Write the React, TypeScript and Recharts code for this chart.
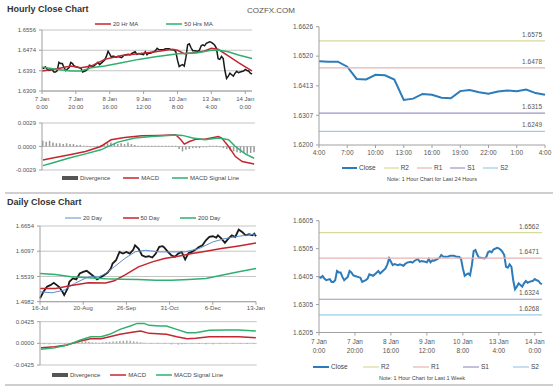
import React from 'react';
import { LineChart, ComposedChart, Line, Bar, XAxis, YAxis, CartesianGrid, Legend, LabelList } from 'recharts';

// ---------------- Hourly (last week) data ----------------
const weekHours = [0,1,2,3,4,6,7,8,9,10,11,12,13,14,16,17,18,19,20,22,23,24,26,27,28,30,31,33,34,35,37,38,39,40,41,42,44,45,47,48,49,51,52,53,55,56,57,59,60,61,62,63,64,66,67,68,69,71,72,73,75,76,78,79,80,81,82,83,84,85,86,87,88,89,90,92,93,94,95,96,97,99,100,101,102,103,104,105,106,107,108,109,110,111,112,113,114,115,116,117,119,120,121,122,123,124];
const weekClose = [1.6404,1.6401,1.6407,1.6398,1.6392,1.6396,1.6386,1.6386,1.6392,1.6425,1.6420,1.6420,1.6404,1.6392,1.6404,1.6425,1.6420,1.6410,1.6407,1.6403,1.6401,1.6386,1.6392,1.6398,1.6413,1.6408,1.6413,1.6425,1.6416,1.6422,1.6434,1.6449,1.6470,1.6458,1.6446,1.6450,1.6446,1.6449,1.6444,1.6451,1.6455,1.6458,1.6455,1.6461,1.6468,1.6458,1.6461,1.6458,1.6456,1.6468,1.6456,1.6463,1.6462,1.6468,1.6472,1.6482,1.6477,1.6476,1.6477,1.6480,1.6480,1.6477,1.6475,1.6468,1.6434,1.6408,1.6413,1.6416,1.6410,1.6446,1.6496,1.6500,1.6484,1.6472,1.6472,1.6470,1.6475,1.6492,1.6496,1.6492,1.6502,1.6508,1.6506,1.6501,1.6494,1.6482,1.6440,1.6437,1.6449,1.6440,1.6392,1.6360,1.6369,1.6381,1.6375,1.6369,1.6381,1.6389,1.6383,1.6386,1.6390,1.6396,1.6392,1.6390,1.6381,1.6378];
const ma20Hours = [0,9,17,23,29,37,47,57,67,77,80,84,90,96,100,104,110,116,122,124];
const ma20Values = [1.6390,1.6399,1.6410,1.6403,1.6410,1.6437,1.6453,1.6460,1.6468,1.6478,1.6474,1.6460,1.6464,1.6471,1.6482,1.6478,1.6451,1.6424,1.6399,1.6390];
const ma50Hours = [0,9,17,23,29,37,47,57,67,77,80,84,92,100,104,110,116,124];
const ma50Values = [1.6406,1.6396,1.6390,1.6390,1.6403,1.6410,1.6423,1.6437,1.6448,1.6457,1.6460,1.6461,1.6464,1.6474,1.6475,1.6468,1.6455,1.6441];
const hMacdHours = [0,5,15,25,34,40,48,58,68,78,81,83,86,90,95,103,105,109,113,117,124];
const hMacdValues = [-0.00166,-0.00145,-0.00104,-0.00062,0,0.00083,0.00112,0.00133,0.00137,0.00145,0.00083,0.00029,0.00062,0.00091,0.00091,0.00124,0.00104,0,-0.00124,-0.00186,-0.00215];
const hSignalHours = [0,5,15,25,34,44,54,64,78,82,88,95,103,109,113,119,124];
const hSignalValues = [-0.00236,-0.00207,-0.00145,-0.00091,-0.00041,0.00054,0.00104,0.00124,0.00141,0.00137,0.00104,0.00083,0.00104,0.00083,0,-0.00095,-0.00145];
const hDivHours = [0,2,4,6,8,10,12,14,16,18,20,22,24,26,28,30,32,34,36,38,40,42,44,46,48,50,52,54,56,58,60,62,64,66,68,70,72,74,76,78,80,82,84,86,88,90,92,94,96,98,100,102,104,106,108,110,112,114,116,118,120,122,124];
const hDivValues = [0.0007,0.0006,0.0007,0.0005,0.0004,0.0004,0.0003,0.0004,0.0003,0.0003,0.0002,0.0002,0.0001,0.0001,-0.0001,-0.0001,0.0001,0.0002,0.0003,0.0004,0.0005,0.0004,0.0003,0.0004,0.0003,0.0005,0.0003,0.0002,0.0001,0.0001,0.0001,0.0001,0.0001,0.0001,0.0001,0.0001,0.0001,0.0001,0.0001,0.0001,-0.0003,-0.0006,-0.0004,-0.0003,-0.0002,-0.0002,-0.0002,-0.0001,-0.0001,0.0001,0.0001,0.0001,-0.0001,-0.0002,-0.0003,-0.0005,-0.0006,-0.0007,-0.0008,-0.0008,-0.0009,-0.0008,-0.0007];
const weekTickHours = [0,20,40,60,80,100,120];
const weekTickDays = ['7 Jan','7 Jan','8 Jan','9 Jan','10 Jan','13 Jan','14 Jan'];
const weekTickTimes = ['0:00','20:00','16:00','12:00','8:00','4:00','0:00'];
const hourlyPriceTicks = [1.6309,1.6391,1.6474,1.6556];
const hourlyMacdTicks = [-0.0029,0,0.0029];
const weekRightTicks = [1.6205,1.6305,1.6405,1.6505,1.6605];
const weekR2 = 1.6562, weekR1 = 1.6471, weekS1 = 1.6324, weekS2 = 1.6268;

// ---------------- Last 24 hours ----------------
const dayClose = [1.6502,1.6500,1.6500,1.6482,1.6438,1.6436,1.6453,1.6451,1.6436,1.6362,1.6367,1.6384,1.6381,1.6370,1.6368,1.6394,1.6398,1.6390,1.6385,1.6393,1.6396,1.6394,1.6400,1.6387,1.6381];
const dayTickIdx = [0,3,6,9,12,15,18,21,24];
const dayTickLabels = ['4:00','7:00','10:00','13:00','16:00','19:00','22:00','1:00','4:00'];
const dayTicks = [1.6200,1.6307,1.6413,1.6520,1.6626];
const dayR2 = 1.6575, dayR1 = 1.6478, dayS1 = 1.6315, dayS2 = 1.6249;

// ---------------- Daily ----------------
const dCloseDays = [0,2,4,6,8,9,11,13,14,16,17,19,21,23,25,27,29,31,33,35,37,39,41,42,44,46,48,50,52,54,55,57,59,61,63,65,67,69,71,72,74,76,78,80,82,84,86,88,90,92,94,96,98,100,102,103,105,107,109,111,113,115,117,119,121,123,124,125];
const dCloseValues = [1.5055,1.5201,1.5312,1.5348,1.5400,1.5370,1.5312,1.5201,1.5128,1.5275,1.5422,1.5495,1.5473,1.5605,1.5642,1.5664,1.5605,1.5546,1.5473,1.5517,1.5568,1.5620,1.5715,1.5825,1.5898,1.6082,1.6045,1.6082,1.6045,1.6133,1.6229,1.6155,1.6008,1.5972,1.5986,1.5957,1.6045,1.6192,1.6207,1.6177,1.6082,1.6008,1.5972,1.6045,1.6082,1.5913,1.6060,1.6082,1.6133,1.6192,1.6229,1.6339,1.6412,1.6427,1.6397,1.6449,1.6375,1.6280,1.6375,1.6449,1.6412,1.6573,1.6522,1.6449,1.6471,1.6449,1.6485,1.6427];
const d20Days = [0,7,14,20,28,34,38,43,49,55,61,69,76,84,92,100,107,115,123,125];
const d20Values = [1.5201,1.5179,1.5238,1.5385,1.5532,1.5532,1.5605,1.5752,1.5935,1.6082,1.6118,1.6082,1.6082,1.6082,1.6155,1.6302,1.6375,1.6427,1.6471,1.6471];
const d50Days = [0,9,18,28,38,43,49,57,65,72,80,88,96,105,115,125];
const d50Values = [1.5275,1.5275,1.5340,1.5400,1.5395,1.5445,1.5568,1.5752,1.5862,1.5935,1.5986,1.6045,1.6096,1.6155,1.6214,1.6280];
const d200Days = [0,9,18,28,38,47,57,67,76,86,96,105,115,125];
const d200Values = [1.5605,1.5583,1.5532,1.5510,1.5488,1.5480,1.5473,1.5458,1.5458,1.5473,1.5495,1.5568,1.5642,1.5715];
const dMacdDays = [0,8,15,23,29,35,40,46,54,58,63,73,79,85,90,98,108,115,125];
const dMacdValues = [-0.0085,-0.0065,-0.0033,0.0046,0.0092,0.0092,0.0131,0.0177,0.0222,0.0242,0.0196,0.0177,0.0131,0.0092,0.0098,0.0131,0.0131,0.0131,0.0111];
const dSignalDays = [0,8,15,23,29,35,40,46,52,56,60,63,69,73,79,85,90,98,108,115,125];
const dSignalValues = [-0.0118,-0.0085,-0.0039,0.0065,0.0131,0.0131,0.0177,0.0275,0.0340,0.0392,0.0392,0.0353,0.0340,0.0340,0.0275,0.0209,0.0209,0.0255,0.0262,0.0262,0.0242];
const dDivDays = [2,5,8,11,14,20,22,24,26,28,30,32,34,36,38,40,42,44,46,48,50,52,54,56,58,60,64,68,72,76,80,82,84,88,92,96,100,104,108,112,116,120,124];
const dDivValues = [-0.002,-0.002,-0.0015,-0.001,-0.0008,0.0015,0.0025,0.0035,0.004,0.003,0.002,0.0015,0.001,0.002,0.0025,0.003,0.0035,0.004,0.0045,0.005,0.0055,0.005,0.004,0.003,0.002,0.001,-0.0008,-0.001,-0.0015,-0.002,-0.0025,-0.002,-0.0015,-0.001,-0.0015,-0.002,-0.0018,-0.0015,-0.001,-0.0012,-0.0015,-0.0012,-0.001];
const dailyTickDays = [0,25,50,75,100,125];
const dailyTickLabels = ['16-Jul','20-Aug','26-Sep','31-Oct','6-Dec','13-Jan'];
const dailyPriceTicks = [1.4982,1.5539,1.6097,1.6654];
const dailyMacdTicks = [-0.0425,0,0.0425];

// ---------------- helpers ----------------
const seq = (n: number) => Array.from({ length: n }, (_, i) => i);
const pick = (keys: number[], vals: number[], k: number) => {
  const i = keys.indexOf(k);
  return i >= 0 ? vals[i] : null;
};

const weekRows = seq(125).map((h) => ({
  h,
  close: pick(weekHours, weekClose, h),
  ma20: pick(ma20Hours, ma20Values, h),
  ma50: pick(ma50Hours, ma50Values, h),
  macd: pick(hMacdHours, hMacdValues, h),
  signal: pick(hSignalHours, hSignalValues, h),
  div: pick(hDivHours, hDivValues, h),
  r2: weekR2, r1: weekR1, s1: weekS1, s2: weekS2,
}));

const dayRows = dayClose.map((c, i) => ({ i, close: c, r2: dayR2, r1: dayR1, s1: dayS1, s2: dayS2 }));

const dailyRows = seq(126).map((d) => ({
  d,
  close: pick(dCloseDays, dCloseValues, d),
  ma20: pick(d20Days, d20Values, d),
  ma50: pick(d50Days, d50Values, d),
  ma200: pick(d200Days, d200Values, d),
  macd: pick(dMacdDays, dMacdValues, d),
  signal: pick(dSignalDays, dSignalValues, d),
  div: pick(dDivDays, dDivValues, d),
}));

const RED = '#c3262e';
const GREEN = '#2fb06f';
const BLUE20 = '#5b8ec9';
const CLOSE_BLUE = '#2c7bba';
const R2C = '#d9da9c';
const R1C = '#e8b3b3';
const S1C = '#9d95c4';
const S2C = '#9ccce6';
const AXIS = '#a0a0a0';
const TXT = '#555';
const f4 = (v: number) => Number(v).toFixed(4);

type LegOpts = {
  height: number; padTop: number; gap?: number; slot?: number; iconW: number; font: number;
  order: string[]; note?: string; noteCenter?: number; noteFont?: number;
};

const makeLegend = (o: LegOpts) => (props: any) => {
  const items = (props.payload || [])
    .filter((p: any) => p.type !== 'none' && o.order.indexOf(String(p.dataKey)) >= 0)
    .sort((a: any, b: any) => o.order.indexOf(String(a.dataKey)) - o.order.indexOf(String(b.dataKey)));
  return (
    <div style={{ position: 'relative', height: o.height, paddingTop: o.padTop, boxSizing: 'border-box', fontSize: o.font, color: '#444' }}>
      <div style={{ display: 'flex', alignItems: 'center', height: 12, gap: o.slot ? 0 : o.gap }}>
        {items.map((p: any, i: number) => (
          <div key={i} style={{ display: 'flex', alignItems: 'center', width: o.slot, flex: 'none', whiteSpace: 'nowrap' }}>
            <svg width={o.iconW} height={8} style={{ display: 'block' }}>
              {p.type === 'rect' ? (
                <rect x={0} y={2} width={o.iconW} height={4} fill="#555" />
              ) : (
                <line x1={0} y1={4} x2={o.iconW} y2={4} stroke={p.color} strokeWidth={(p.payload && p.payload.strokeWidth) || 1.5} />
              )}
            </svg>
            <span style={{ marginLeft: 2, lineHeight: '12px' }}>{p.value}</span>
          </div>
        ))}
      </div>
      {o.note ? (
        <div style={{ position: 'absolute', left: o.noteCenter, top: o.padTop + 12, transform: 'translateX(-50%)', whiteSpace: 'nowrap', fontSize: o.noteFont, lineHeight: '10px', color: '#444' }}>
          {o.note}
        </div>
      ) : null}
    </div>
  );
};

const makeWeekTick = (dy1: number, dy2: number, font: number) => (props: any) => {
  const { x, y, payload } = props;
  const i = weekTickHours.indexOf(Number(payload.value));
  if (i < 0) return null;
  return (
    <text x={x} y={y} textAnchor="middle" fontSize={font} fill={TXT}>
      <tspan x={x} dy={dy1}>{weekTickDays[i]}</tspan>
      <tspan x={x} dy={dy2}>{weekTickTimes[i]}</tspan>
    </text>
  );
};

const levelLabel = (last: number, font: number) => (p: any) =>
  p.index === last ? (
    <text x={p.x - 3} y={p.y - 4} textAnchor="end" fontSize={font} fill={TXT}>{f4(p.value)}</text>
  ) : null;

const box = (left: number, top: number): React.CSSProperties => ({ position: 'absolute', left, top });

export default function App() {
  return (
    <div style={{ position: 'absolute', left: 0, top: 0, width: 560, height: 386, background: '#fff', overflow: 'hidden', fontFamily: "'Liberation Sans', Arial, sans-serif" }}>
      <div style={{ position: 'absolute', left: 7, top: 3, fontSize: 9, lineHeight: '12px', fontWeight: 'bold', color: '#333' }}>Hourly Close Chart</div>
      <div style={{ position: 'absolute', left: 247, top: 5.5, fontSize: 8, lineHeight: '10px', color: '#555' }}>COZFX.COM</div>
      <div style={{ position: 'absolute', left: 7, top: 195.5, fontSize: 9, lineHeight: '12px', fontWeight: 'bold', color: '#333' }}>Daily Close Chart</div>
      <div style={{ position: 'absolute', left: 5, top: 192, width: 548, height: 1.5, background: '#cfcfcf' }} />
      <div style={{ position: 'absolute', left: 5, top: 384, width: 548, height: 1.5, background: '#cfcfcf' }} />

      {/* A: hourly price */}
      <div style={box(0, 15)}>
        <LineChart width={265} height={100} data={weekRows} margin={{ top: 3, right: 13, bottom: 0, left: 4 }}>
          <CartesianGrid horizontal vertical={false} stroke="#c4c4c4" />
          <XAxis dataKey="h" ticks={weekTickHours} interval={0} height={24} tickSize={3} tickMargin={1}
            axisLine={{ stroke: AXIS }} tickLine={{ stroke: AXIS }} tick={makeWeekTick(6, 8, 6)} />
          <YAxis type="number" domain={[1.6309, 1.6556]} ticks={hourlyPriceTicks} interval={0} width={38}
            tickFormatter={f4} tick={{ fontSize: 6, fill: TXT }} tickSize={3} tickMargin={3}
            axisLine={{ stroke: AXIS }} tickLine={{ stroke: AXIS }} />
          <Legend verticalAlign="top" wrapperStyle={{ left: 95, width: 170 }}
            content={makeLegend({ height: 12, padTop: 0, gap: 28, iconW: 16, font: 6, order: ['ma20', 'ma50'] })} />
          <Line dataKey="close" stroke="#1a1a1a" strokeWidth={1.5} dot={false} activeDot={false} connectNulls legendType="none" isAnimationActive={false} />
          <Line dataKey="ma20" name="20 Hr MA" stroke={RED} strokeWidth={1.5} dot={false} activeDot={false} connectNulls isAnimationActive={false} />
          <Line dataKey="ma50" name="50 Hrs MA" stroke={GREEN} strokeWidth={1.5} dot={false} activeDot={false} connectNulls isAnimationActive={false} />
        </LineChart>
      </div>

      {/* B: hourly MACD */}
      <div style={box(0, 115)}>
        <ComposedChart width={265} height={78} data={weekRows} margin={{ top: 8, right: 10, bottom: 7, left: 4 }}>
          <CartesianGrid horizontal vertical={false} stroke="#c4c4c4" />
          <XAxis dataKey="h" hide />
          <YAxis type="number" domain={[-0.0029, 0.0029]} ticks={hourlyMacdTicks} interval={0} width={38}
            tickFormatter={f4} tick={{ fontSize: 6, fill: TXT }} tickSize={3} tickMargin={3}
            axisLine={{ stroke: AXIS }} tickLine={{ stroke: AXIS }} />
          <Legend verticalAlign="bottom" wrapperStyle={{ left: 62, width: 200 }}
            content={makeLegend({ height: 16, padTop: 2, gap: 13, iconW: 16, font: 6, order: ['div', 'macd', 'signal'] })} />
          <Bar dataKey="div" name="Divergence" fill="#9a9a9a" barSize={2} isAnimationActive={false} />
          <Line dataKey="macd" name="MACD" stroke={RED} strokeWidth={1.5} dot={false} activeDot={false} connectNulls isAnimationActive={false} />
          <Line dataKey="signal" name="MACD Signal Line" stroke={GREEN} strokeWidth={1.5} dot={false} activeDot={false} connectNulls isAnimationActive={false} />
        </ComposedChart>
      </div>

      {/* C: last 24 hours */}
      <div style={box(280, 15)}>
        <LineChart width={280} height={178} data={dayRows} margin={{ top: 11.7, right: 15, bottom: 9, left: 4 }}>
          <XAxis dataKey="i" ticks={dayTickIdx} interval={0} height={14} tickSize={3} tickMargin={2}
            tickFormatter={(v: any) => dayTickLabels[dayTickIdx.indexOf(Number(v))]}
            axisLine={{ stroke: AXIS }} tickLine={{ stroke: AXIS }} tick={{ fontSize: 6.5, fill: TXT }} />
          <YAxis type="number" domain={[1.62, 1.6626]} ticks={dayTicks} interval={0} width={35}
            tickFormatter={f4} tick={{ fontSize: 6.5, fill: TXT }} tickSize={3} tickMargin={3}
            axisLine={{ stroke: AXIS }} tickLine={{ stroke: AXIS }} />
          <Legend verticalAlign="bottom" wrapperStyle={{ left: 62, width: 218 }}
            content={makeLegend({ height: 25, padTop: 3, gap: 8, iconW: 15, font: 6.5, order: ['close', 'r2', 'r1', 's1', 's2'], note: 'Note: 1 Hour Chart for Last 24 Hours', noteCenter: 90, noteFont: 5.5 })} />
          <Line dataKey="close" name="Close" stroke={CLOSE_BLUE} strokeWidth={2} dot={false} activeDot={false} isAnimationActive={false} />
          <Line dataKey="r2" name="R2" stroke={R2C} strokeWidth={1.2} dot={false} activeDot={false} isAnimationActive={false}>
            <LabelList dataKey="r2" content={levelLabel(24, 6.5)} />
          </Line>
          <Line dataKey="r1" name="R1" stroke={R1C} strokeWidth={1.2} dot={false} activeDot={false} isAnimationActive={false}>
            <LabelList dataKey="r1" content={levelLabel(24, 6.5)} />
          </Line>
          <Line dataKey="s1" name="S1" stroke={S1C} strokeWidth={1.2} dot={false} activeDot={false} isAnimationActive={false}>
            <LabelList dataKey="s1" content={levelLabel(24, 6.5)} />
          </Line>
          <Line dataKey="s2" name="S2" stroke={S2C} strokeWidth={1.2} dot={false} activeDot={false} isAnimationActive={false}>
            <LabelList dataKey="s2" content={levelLabel(24, 6.5)} />
          </Line>
        </LineChart>
      </div>

      {/* D: daily price */}
      <div style={box(0, 208)}>
        <LineChart width={265} height={107} data={dailyRows} margin={{ top: 4, right: 9, bottom: 1.3, left: 4 }}>
          <CartesianGrid horizontal vertical={false} stroke="#c4c4c4" />
          <XAxis dataKey="d" ticks={dailyTickDays} interval={0} height={12} tickSize={3} tickMargin={1}
            tickFormatter={(v: any) => dailyTickLabels[dailyTickDays.indexOf(Number(v))]}
            axisLine={{ stroke: AXIS }} tickLine={{ stroke: AXIS }} tick={{ fontSize: 6, fill: TXT }} />
          <YAxis type="number" domain={[1.4982, 1.6654]} ticks={dailyPriceTicks} interval={0} width={36}
            tickFormatter={f4} tick={{ fontSize: 6, fill: TXT }} tickSize={3} tickMargin={3}
            axisLine={{ stroke: AXIS }} tickLine={{ stroke: AXIS }} />
          <Legend verticalAlign="top" wrapperStyle={{ left: 65, width: 200 }}
            content={makeLegend({ height: 14, padTop: 0, slot: 57.5, iconW: 16, font: 6, order: ['ma20', 'ma50', 'ma200'] })} />
          <Line dataKey="close" stroke="#1a1a1a" strokeWidth={1.8} dot={false} activeDot={false} connectNulls legendType="none" isAnimationActive={false} />
          <Line dataKey="ma20" name="20 Day" stroke={BLUE20} strokeWidth={1} dot={false} activeDot={false} connectNulls isAnimationActive={false} />
          <Line dataKey="ma50" name="50 Day" stroke={RED} strokeWidth={1.5} dot={false} activeDot={false} connectNulls isAnimationActive={false} />
          <Line dataKey="ma200" name="200 Day" stroke={GREEN} strokeWidth={1.5} dot={false} activeDot={false} connectNulls isAnimationActive={false} />
        </LineChart>
      </div>

      {/* E: daily MACD */}
      <div style={box(0, 315)}>
        <ComposedChart width={265} height={70} data={dailyRows} margin={{ top: 6.7, right: 8.3, bottom: 4, left: 4 }}>
          <CartesianGrid horizontal vertical={false} stroke="#c4c4c4" />
          <XAxis dataKey="d" hide />
          <YAxis type="number" domain={[-0.0425, 0.0425]} ticks={dailyMacdTicks} interval={0} width={36}
            tickFormatter={f4} tick={{ fontSize: 6, fill: TXT }} tickSize={3} tickMargin={3}
            axisLine={{ stroke: AXIS }} tickLine={{ stroke: AXIS }} />
          <Legend verticalAlign="bottom" wrapperStyle={{ left: 52, width: 210 }}
            content={makeLegend({ height: 16, padTop: 4, gap: 10, iconW: 16, font: 6, order: ['div', 'macd', 'signal'] })} />
          <Bar dataKey="div" name="Divergence" fill="#aaaaaa" barSize={2} isAnimationActive={false} />
          <Line dataKey="macd" name="MACD" stroke={RED} strokeWidth={1.5} dot={false} activeDot={false} connectNulls isAnimationActive={false} />
          <Line dataKey="signal" name="MACD Signal Line" stroke={GREEN} strokeWidth={1.5} dot={false} activeDot={false} connectNulls isAnimationActive={false} />
        </ComposedChart>
      </div>

      {/* F: last week close */}
      <div style={box(280, 205)}>
        <LineChart width={280} height={180} data={weekRows} margin={{ top: 15.7, right: 18, bottom: 2.5, left: 4 }}>
          <XAxis dataKey="h" ticks={weekTickHours} interval={0} height={24} tickSize={3} tickMargin={1}
            axisLine={{ stroke: AXIS }} tickLine={{ stroke: AXIS }} tick={makeWeekTick(7.5, 9, 6.5)} />
          <YAxis type="number" domain={[1.6205, 1.6605]} ticks={weekRightTicks} interval={0} width={35}
            tickFormatter={f4} tick={{ fontSize: 6.5, fill: TXT }} tickSize={3} tickMargin={3}
            axisLine={{ stroke: AXIS }} tickLine={{ stroke: AXIS }} />
          <Legend verticalAlign="bottom" wrapperStyle={{ left: 33, width: 247 }}
            content={makeLegend({ height: 26, padTop: 4, slot: 50, iconW: 16, font: 6.5, order: ['close', 'r2', 'r1', 's1', 's2'], note: 'Note: 1 Hour Chart for Last 1 Week', noteCenter: 109, noteFont: 5.5 })} />
          <Line dataKey="close" name="Close" stroke={CLOSE_BLUE} strokeWidth={2} dot={false} activeDot={false} connectNulls isAnimationActive={false} />
          <Line dataKey="r2" name="R2" stroke={R2C} strokeWidth={1.2} dot={false} activeDot={false} isAnimationActive={false}>
            <LabelList dataKey="r2" content={levelLabel(124, 6.5)} />
          </Line>
          <Line dataKey="r1" name="R1" stroke={R1C} strokeWidth={1.2} dot={false} activeDot={false} isAnimationActive={false}>
            <LabelList dataKey="r1" content={levelLabel(124, 6.5)} />
          </Line>
          <Line dataKey="s1" name="S1" stroke={S1C} strokeWidth={1.2} dot={false} activeDot={false} isAnimationActive={false}>
            <LabelList dataKey="s1" content={levelLabel(124, 6.5)} />
          </Line>
          <Line dataKey="s2" name="S2" stroke={S2C} strokeWidth={1.2} dot={false} activeDot={false} isAnimationActive={false}>
            <LabelList dataKey="s2" content={levelLabel(124, 6.5)} />
          </Line>
        </LineChart>
      </div>
    </div>
  );
}
